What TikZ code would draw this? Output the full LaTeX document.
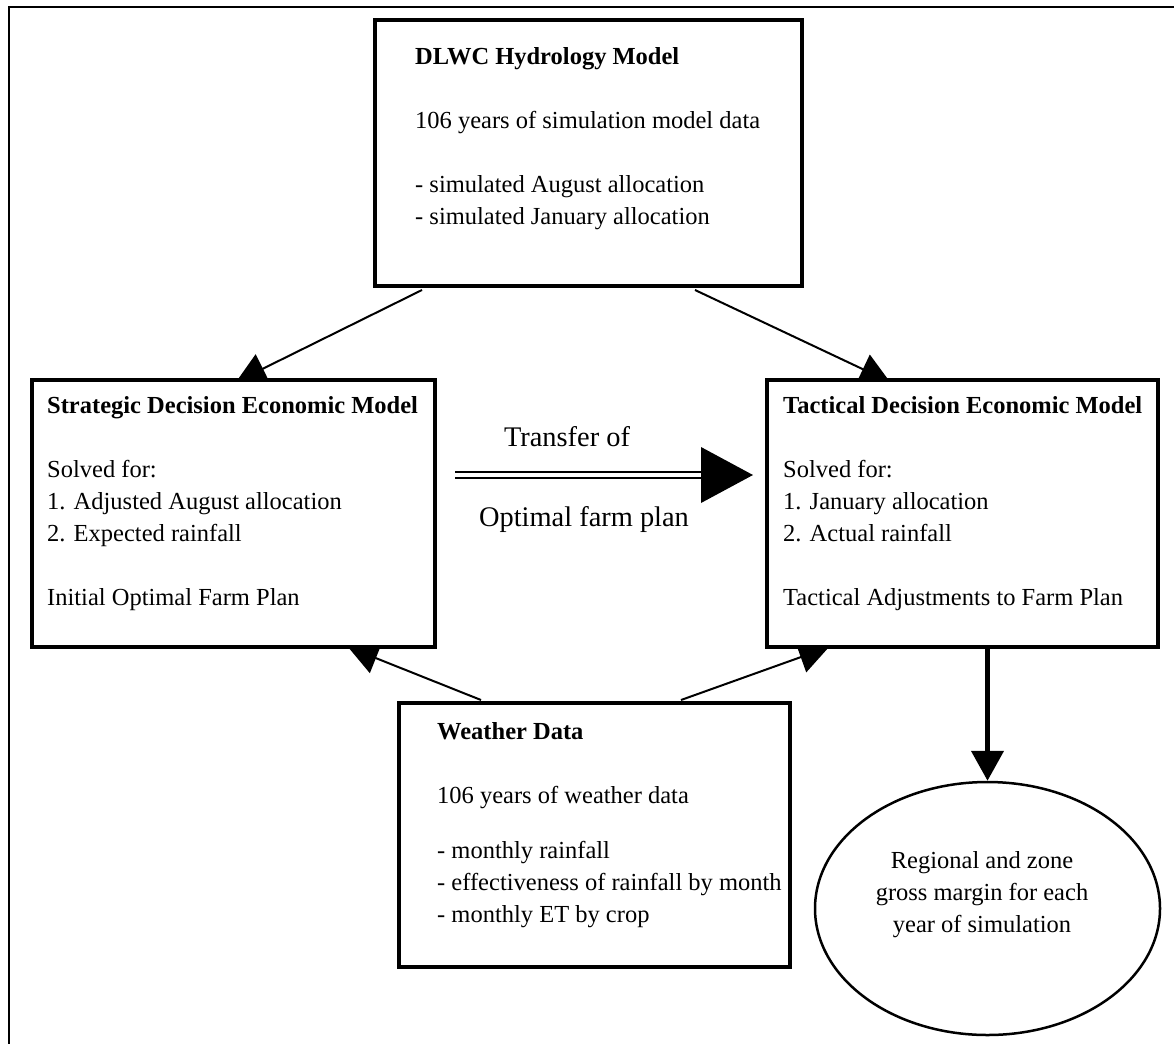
\documentclass[tikz,border=0pt]{standalone}
\usepackage{fontspec}
\setmainfont{Liberation Serif}
\usetikzlibrary{arrows.meta,calc,shapes.geometric}
\pgfdeclarelayer{background}
\pgfsetlayers{background,main}
\begin{document}
\begin{tikzpicture}[x=1pt,y=-1pt,
  box/.style={draw, rectangle, line width=4pt, fill=white, inner sep=0pt},
  txt/.style={anchor=north west, inner sep=0pt, align=left, font=\fontsize{24.5}{32}\selectfont},
  lbl/.style={anchor=base, inner sep=0pt, font=\fontsize{28.4}{34}\selectfont},
  conn/.style={line width=2pt, -{Triangle[length=30pt,width=32pt]}},
  ell/.style={draw, ellipse, line width=2.5pt, fill=white, inner sep=0pt},
  frame/.style={line width=2.5pt}
]
\useasboundingbox (0,0) rectangle (1174,1044);

% outer frame (only top and left visible)
\coordinate (ftr) at (1174,7);
\coordinate (ftl) at (9,7);
\coordinate (fbl) at (9,1044);
\draw[frame] (ftr) -- (ftl) -- (fbl);

% boxes
\node[box, minimum width=427pt, minimum height=266pt] (dlwc) at (588.5,153) {};
\node[box, minimum width=403pt, minimum height=267pt] (strat) at (233.5,513.5) {};
\node[box, minimum width=391pt, minimum height=267pt] (tact) at (962.5,513.5) {};
\node[box, minimum width=391pt, minimum height=264pt] (wthr) at (594.5,835) {};
\node[ell, minimum width=345pt, minimum height=253pt] (res) at (987.5,908.5) {};

% texts
\node[txt] (dlwctext) at (415,41.6) {\strut\textbf{DLWC Hydrology Model}\\[32pt]
  106 years of simulation model data\\[32pt]
  - simulated August allocation\\
  - simulated January allocation};
\node[txt] (strattext) at (47,390.6) {\strut\textbf{Strategic Decision Economic Model}\\[32pt]
  Solved for:\\
  1. Adjusted August allocation\\
  2. Expected rainfall\\[32pt]
  Initial Optimal Farm Plan};
\node[txt] (tacttext) at (783,390.6) {\strut\textbf{Tactical Decision Economic Model}\\[32pt]
  Solved for:\\
  1. January allocation\\
  2. Actual rainfall\\[32pt]
  Tactical Adjustments to Farm Plan};
\node[txt] (wthrtext) at (437,716.6) {\strut\textbf{Weather Data}\\[32pt]
  106 years of weather data\\[23pt]
  - monthly rainfall\\
  - effectiveness of rainfall by month\\
  - monthly ET by crop};
\node[txt, anchor=north, align=center] (restext) at (982,845.6) {\strut Regional and zone\\
  gross margin for each\\
  year of simulation};

% transfer arrow
\coordinate (tstart) at ($(strat.east)+(18,-38.5)$);
\coordinate (tend) at ($(tact.west)+(-12,-38.5)$);
\coordinate (thead) at ($(tend)+(-52,0)$);
\draw[line width=2pt, double, double distance=4pt] (tstart) -- (thead);
\fill (tend) -- ($(thead)+(0,-28)$) -- ($(thead)+(0,28)$) -- cycle;
\node[lbl] (lbltop) at ($(tstart)+(112,-29)$) {Transfer of};
\node[lbl] (lblbot) at ($(tstart)+(129,51)$) {Optimal farm plan};

% connectors (behind the boxes)
\begin{pgfonlayer}{background}
\draw[conn] ($(dlwc.south west)+(49,2)$) -- ($(strat.north west)+(206,4)$);
\draw[conn] ($(dlwc.south east)+(-109,2)$) -- ($(tact.north west)+(125,4)$);
\draw[conn] ($(wthr.north west)+(84,-1)$) -- ($(strat.south west)+(318,-2)$);
\draw[conn] ($(wthr.north west)+(284,-1)$) -- ($(tact.south west)+(64,-2)$);
\end{pgfonlayer}
\draw[line width=4.5pt, -{Triangle[length=30pt,width=32pt]}] (res.north |- tact.south) -- (res.north);
\end{tikzpicture}
\end{document}
